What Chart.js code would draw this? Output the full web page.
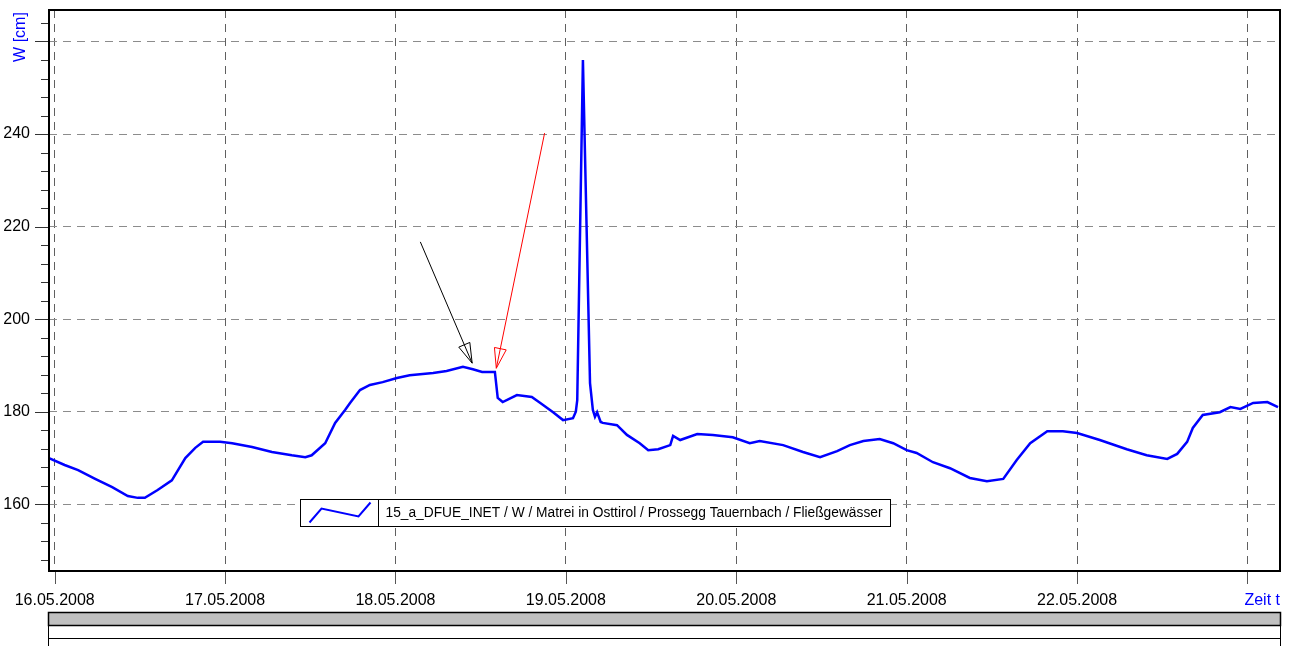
<!DOCTYPE html>
<html>
<head>
<meta charset="utf-8">
<script src="https://cdn.jsdelivr.net/npm/chart.js@4/dist/chart.umd.min.js"></script>
<style>
  html, body { margin: 0; padding: 0; background: #fff; }
  canvas { display: block; }
</style>
</head>
<body>
<canvas id="pegel" width="1295" height="646"></canvas>
<script>
Chart.defaults.font.family = '"Liberation Sans", Arial, sans-serif';
Chart.defaults.color = '#000';

// Stunden ab 16.05.2008 00:00
const hours = [
  -0.8, 1.4, 3.3, 5.7, 8.1, 10.3, 11.7, 12.7, 14.5, 16.5, 18.4, 19.8, 20.9, 23.3,
  25.0, 27.8, 30.6, 33.4, 35.3, 36.2, 38.1, 39.5, 40.9, 41.6, 43.0, 44.4, 46.2, 48.2,
  50.0, 53.3, 55.2, 57.5, 58.9, 60.2, 62.0, 62.4, 63.1, 65.1, 67.2, 68.4, 70.2, 71.6,
  73.0, 73.4, 73.6, 74.4, 75.4, 75.8, 76.1, 76.4, 76.9, 77.2, 79.2, 80.6, 82.4, 83.6,
  85.0, 86.7, 87.1, 88.1, 90.5, 92.7, 95.5, 97.9, 99.3, 102.6, 105.4, 107.8, 110.2,
  112.0, 113.9, 116.2, 118.1, 120.0, 121.4, 123.7, 126.1, 128.9, 131.3, 133.6, 135.5,
  137.4, 139.8, 142.0, 144.0, 147.2, 151.0, 153.8, 156.7, 158.1, 159.5, 160.3, 161.7,
  164.1, 165.6, 167.0, 168.8, 170.8, 172.3
];
// Wasserstand W [cm]
const level = [
  170.0, 168.5, 167.4, 165.5, 163.7, 161.8, 161.4, 161.4, 163.1, 165.2, 170.0, 172.2, 173.5, 173.5,
  173.2, 172.4, 171.3, 170.6, 170.2, 170.6, 173.2, 177.6, 180.4, 181.9, 184.7, 185.8, 186.4, 187.3,
  187.9, 188.4, 188.8, 189.7, 189.2, 188.6, 188.6, 183.0, 182.1, 183.6, 183.2, 181.9, 179.9, 178.2,
  178.6, 180.0, 182.5, 256.0, 186.2, 180.4, 178.9, 179.9, 177.8, 177.6, 177.1, 175.0, 173.2, 171.7,
  171.9, 172.8, 174.8, 173.9, 175.2, 175.0, 174.5, 173.2, 173.7, 172.8, 171.3, 170.2, 171.5,
  172.8, 173.7, 174.1, 173.2, 171.7, 171.1, 169.1, 167.8, 165.7, 165.0, 165.5, 169.6,
  173.2, 175.8, 175.8, 175.4, 173.9, 171.9, 170.6, 169.8, 170.9, 173.5, 176.5, 179.3,
  179.9, 181.0, 180.6, 181.9, 182.1, 181.0
];

const seriesLabel = '15_a_DFUE_INET / W / Matrei in Osttirol / Prossegg Tauernbach / Fließgewässer';
const xTickHours = [0, 24, 48, 72, 96, 120, 144, 168];
const xTickLabels = ['16.05.2008', '17.05.2008', '18.05.2008', '19.05.2008', '20.05.2008', '21.05.2008', '22.05.2008', ''];
const yLabelValues = [160, 180, 200, 220, 240];
const yMajorStep = 20;
const yMinorStep = 4;

// Pfeile im Diagramm (Stunde, W)
const arrowFrom  = [[51.5, 216.7], [69.0, 240.2]];
const arrowTo    = [[58.8, 190.5], [62.2, 189.4]];
const arrowColor = ['#000000', '#ff0000'];

const points = hours.map((h, i) => ({ x: h, y: level[i] }));

function line(ctx, x1, y1, x2, y2) {
    ctx.beginPath();
    ctx.moveTo(x1, y1);
    ctx.lineTo(x2, y2);
    ctx.stroke();
}

const decor = {
    id: 'decor',
    afterDatasetsDraw(chart) {
        const { ctx, scales: { x, y } } = chart;
        ctx.save();

        // ── Pfeile ──
        arrowFrom.forEach((f, i) => {
            const x1 = x.getPixelForValue(f[0]), y1 = y.getPixelForValue(f[1]);
            const x2 = x.getPixelForValue(arrowTo[i][0]), y2 = y.getPixelForValue(arrowTo[i][1]);
            const ang = Math.atan2(y2 - y1, x2 - x1);
            const len = 20, half = 6;
            const bx = x2 - Math.cos(ang) * len, by = y2 - Math.sin(ang) * len;
            ctx.strokeStyle = arrowColor[i];
            ctx.lineWidth = 1;
            line(ctx, x1, y1, x2, y2);
            ctx.beginPath();
            ctx.moveTo(x2, y2);
            ctx.lineTo(bx + Math.sin(ang) * half, by - Math.cos(ang) * half);
            ctx.lineTo(bx - Math.sin(ang) * half, by + Math.cos(ang) * half);
            ctx.closePath();
            ctx.stroke();
        });

        // ── Legende ──
        const lx = 300.5, ly = 499.5, lw = 590, lh = 27, div = 78;
        ctx.fillStyle = '#fff';
        ctx.fillRect(lx, ly, lw, lh);
        ctx.strokeStyle = '#000';
        ctx.lineWidth = 1;
        ctx.strokeRect(lx, ly, lw, lh);
        line(ctx, lx + div, ly, lx + div, ly + lh);
        ctx.strokeStyle = '#0000ff';
        ctx.lineWidth = 2;
        ctx.beginPath();
        ctx.moveTo(lx + 9, ly + 23);
        ctx.lineTo(lx + 21, ly + 9);
        ctx.lineTo(lx + 58, ly + 17);
        ctx.lineTo(lx + 70, ly + 3);
        ctx.stroke();
        ctx.font = '14px "Liberation Sans", Arial, sans-serif';
        ctx.fillStyle = '#000';
        ctx.textBaseline = 'middle';
        ctx.textAlign = 'left';
        const tw = ctx.measureText(seriesLabel).width;
        ctx.save();
        ctx.translate(lx + div + 7, ly + lh / 2 + 0.5);
        ctx.scale(497 / tw, 1);
        ctx.fillText(seriesLabel, 0, 0);
        ctx.restore();

        ctx.restore();
    },
    afterDraw(chart) {
        const { ctx, chartArea: a, scales: { x, y } } = chart;
        ctx.save();

        // ── Teilstriche ──
        ctx.strokeStyle = '#333';
        ctx.lineWidth = 1;
        y.ticks.forEach(t => {
            const py = Math.round(y.getPixelForValue(t.value)) + 0.5;
            const len = t.value % yMajorStep === 0 ? 14 : 8;
            line(ctx, a.left - len, py, a.left, py);
        });
        ctx.strokeStyle = '#555';
        x.ticks.forEach(t => {
            const px = Math.round(x.getPixelForValue(t.value)) + 0.5;
            line(ctx, px, a.bottom, px, a.bottom + 13);
        });

        // ── Rahmen ──
        ctx.strokeStyle = '#000';
        ctx.lineWidth = 2;
        ctx.strokeRect(a.left, a.top, a.right - a.left, a.bottom - a.top);

        // ── Achsentitel ──
        ctx.fillStyle = '#0000ff';
        ctx.font = '16px "Liberation Sans", Arial, sans-serif';
        ctx.save();
        ctx.translate(21, 37);
        ctx.rotate(-Math.PI / 2);
        ctx.textAlign = 'center';
        ctx.textBaseline = 'middle';
        ctx.fillText('W [cm]', 0, 0);
        ctx.restore();
        ctx.textAlign = 'right';
        ctx.textBaseline = 'alphabetic';
        ctx.fillText('Zeit t', a.right, 605);

        // ── Zeitleiste unten ──
        const bl = a.left - 0.5, bw = a.right - a.left + 1;
        ctx.fillStyle = '#c0c0c0';
        ctx.fillRect(bl, 612.5, bw, 13);
        ctx.strokeStyle = '#000';
        ctx.lineWidth = 1.5;
        ctx.strokeRect(bl, 612.5, bw, 13);
        ctx.lineWidth = 1;
        ctx.strokeRect(bl, 625.5, bw, 13);
        line(ctx, bl, 638.5, bl, 646);
        line(ctx, bl + bw, 638.5, bl + bw, 646);

        ctx.restore();
    },
};

new Chart(document.getElementById('pegel'), {
    type: 'line',
    data: {
        datasets: [{
            label: seriesLabel,
            data: points,
            borderColor: '#0000ff',
            borderWidth: 2.5,
            pointRadius: 0,
            tension: 0,
            fill: false,
        }],
    },
    options: {
        responsive: false,
        animation: false,
        devicePixelRatio: 1,
        layout: { padding: { top: 10, right: 15, left: 0, bottom: 0 } },
        plugins: {
            legend: { display: false },
            tooltip: { enabled: false },
        },
        scales: {
            x: {
                type: 'linear',
                min: -0.8,
                max: 172.58,
                afterFit: s => {
                    s.height = 75;
                    s.paddingLeft = 0;
                    s.paddingRight = 0;
                },
                afterBuildTicks: s => { s.ticks = xTickHours.map(v => ({ value: v })); },
                grid: { color: '#606060', lineWidth: 1, drawTicks: false, tickBorderDash: [] },
                border: { display: false, dash: [8, 6] },
                ticks: {
                    autoSkip: false,
                    maxRotation: 0,
                    padding: 20,
                    font: { size: 16 },
                    color: '#000',
                    callback: (v, i) => xTickLabels[i],
                },
            },
            y: {
                min: 145.6,
                max: 266.8,
                afterFit: s => {
                    s.width = 49;
                    s.paddingTop = 0;
                    s.paddingBottom = 0;
                },
                afterBuildTicks: s => {
                    const t = [];
                    for (let v = 148; v <= 264; v += yMinorStep) t.push({ value: v });
                    s.ticks = t;
                },
                grid: {
                    color: c => (c.tick && c.tick.value % yMajorStep === 0 ? '#8c8c8c' : 'rgba(0,0,0,0)'),
                    lineWidth: 1,
                    drawTicks: false,
                    tickBorderDash: [],
                },
                border: { display: false, dash: [8, 6] },
                ticks: {
                    padding: 19,
                    font: { size: 16 },
                    color: '#000',
                    autoSkip: false,
                    callback: v => (yLabelValues.includes(v) ? String(v) : ''),
                },
            },
        },
    },
    plugins: [decor],
});
</script>
</body>
</html>
